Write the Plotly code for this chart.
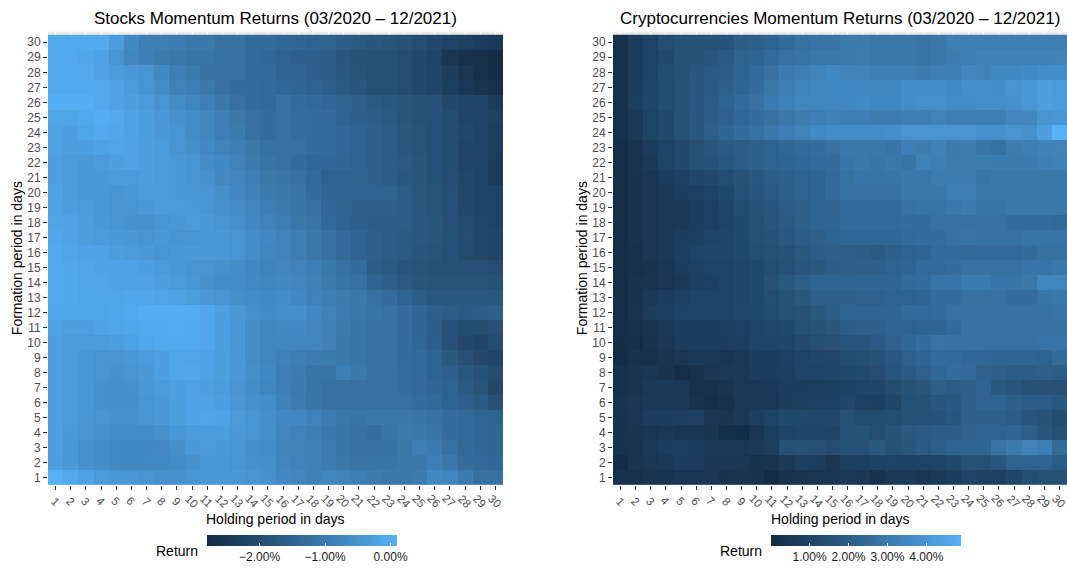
import plotly.graph_objects as go

# Momentum returns in percent: rows = formation period (1..30 days),
# columns = holding period (1..30 days)
formation_days = list(range(1, 31))
holding_days = list(range(1, 31))

stocks_returns = [
    [0.09,-0.06,-0.20,-0.35,-0.40,-0.43,-0.49,-0.55,-0.55,-0.49,-0.43,-0.40,-0.43,-0.49,-0.55,-0.72,-0.78,-0.87,-0.78,-0.84,-0.93,-1.01,-1.07,-1.07,-1.01,-0.72,-0.78,-1.01,-1.22,-1.22],
    [-0.29,-0.40,-0.55,-0.64,-0.69,-0.72,-0.69,-0.69,-0.64,-0.55,-0.43,-0.43,-0.49,-0.55,-0.58,-0.78,-0.84,-0.87,-0.98,-1.07,-1.16,-1.16,-1.16,-1.07,-1.07,-0.93,-1.07,-1.30,-1.36,-1.42],
    [-0.26,-0.40,-0.55,-0.64,-0.69,-0.72,-0.72,-0.69,-0.58,-0.43,-0.35,-0.40,-0.49,-0.58,-0.64,-0.84,-0.84,-0.87,-0.98,-1.13,-1.22,-1.22,-1.22,-1.07,-0.93,-1.01,-1.22,-1.36,-1.42,-1.45],
    [-0.26,-0.40,-0.49,-0.55,-0.64,-0.64,-0.64,-0.55,-0.43,-0.35,-0.29,-0.29,-0.40,-0.49,-0.58,-0.78,-0.84,-0.93,-1.07,-1.16,-1.22,-1.27,-1.16,-1.01,-1.07,-1.16,-1.30,-1.36,-1.42,-1.45],
    [-0.26,-0.35,-0.43,-0.49,-0.55,-0.55,-0.49,-0.40,-0.29,-0.20,-0.14,-0.20,-0.35,-0.49,-0.58,-0.72,-0.72,-0.84,-0.98,-1.07,-1.13,-1.07,-1.07,-1.07,-1.16,-1.22,-1.30,-1.36,-1.42,-1.51],
    [-0.26,-0.35,-0.43,-0.55,-0.58,-0.58,-0.49,-0.40,-0.29,-0.20,-0.20,-0.26,-0.43,-0.55,-0.64,-0.87,-0.98,-1.13,-1.22,-1.22,-1.22,-1.22,-1.22,-1.22,-1.30,-1.36,-1.51,-1.59,-1.71,-1.94],
    [-0.26,-0.35,-0.43,-0.55,-0.58,-0.55,-0.43,-0.35,-0.26,-0.20,-0.26,-0.35,-0.49,-0.64,-0.78,-0.93,-1.01,-1.16,-1.22,-1.22,-1.22,-1.22,-1.22,-1.27,-1.36,-1.45,-1.51,-1.71,-1.85,-2.09],
    [-0.26,-0.35,-0.43,-0.49,-0.55,-0.49,-0.40,-0.26,-0.14,-0.11,-0.20,-0.29,-0.43,-0.58,-0.72,-0.93,-0.98,-1.13,-1.13,-0.93,-1.07,-1.22,-1.22,-1.27,-1.36,-1.51,-1.59,-1.74,-1.88,-2.03],
    [-0.26,-0.35,-0.43,-0.49,-0.49,-0.43,-0.35,-0.26,-0.14,-0.14,-0.20,-0.29,-0.43,-0.64,-0.78,-0.87,-0.93,-0.98,-1.01,-1.07,-1.16,-1.22,-1.22,-1.30,-1.36,-1.51,-1.74,-1.94,-2.09,-2.17],
    [-0.26,-0.35,-0.35,-0.35,-0.29,-0.20,-0.11,-0.06,-0.06,-0.03,-0.11,-0.26,-0.43,-0.64,-0.78,-0.78,-0.78,-0.78,-0.87,-1.07,-1.16,-1.22,-1.22,-1.30,-1.42,-1.59,-1.94,-2.09,-2.17,-2.03],
    [-0.20,-0.26,-0.26,-0.20,-0.14,-0.11,-0.06,-0.03,0.00,-0.03,-0.11,-0.26,-0.43,-0.64,-0.78,-0.69,-0.69,-0.78,-0.87,-1.01,-1.13,-1.22,-1.22,-1.30,-1.45,-1.65,-1.94,-2.03,-2.03,-1.94],
    [-0.11,-0.14,-0.14,-0.14,-0.11,-0.06,0.00,0.00,0.03,0.00,-0.11,-0.26,-0.40,-0.55,-0.64,-0.58,-0.58,-0.72,-0.84,-0.98,-1.07,-1.13,-1.22,-1.30,-1.45,-1.59,-1.65,-1.71,-1.65,-1.59],
    [-0.06,-0.11,-0.14,-0.14,-0.14,-0.11,-0.11,-0.14,-0.20,-0.29,-0.40,-0.49,-0.58,-0.64,-0.69,-0.64,-0.72,-0.84,-0.93,-1.01,-1.07,-1.22,-1.30,-1.51,-1.65,-1.74,-1.74,-1.74,-1.74,-1.74],
    [-0.06,-0.11,-0.14,-0.14,-0.20,-0.20,-0.20,-0.26,-0.35,-0.43,-0.55,-0.64,-0.64,-0.69,-0.78,-0.72,-0.78,-0.87,-1.01,-1.13,-1.22,-1.51,-1.59,-1.71,-1.80,-1.85,-1.85,-1.85,-1.85,-1.88],
    [-0.06,-0.11,-0.14,-0.20,-0.20,-0.20,-0.26,-0.35,-0.43,-0.49,-0.49,-0.55,-0.64,-0.72,-0.84,-0.78,-0.84,-0.93,-1.07,-1.22,-1.30,-1.65,-1.71,-1.80,-1.85,-1.88,-1.94,-1.94,-1.94,-2.00],
    [-0.06,-0.14,-0.20,-0.20,-0.29,-0.35,-0.40,-0.49,-0.43,-0.40,-0.40,-0.43,-0.49,-0.64,-0.78,-0.84,-0.93,-1.07,-1.22,-1.36,-1.51,-1.59,-1.65,-1.71,-1.80,-1.85,-1.94,-2.03,-2.09,-2.17],
    [-0.11,-0.20,-0.29,-0.35,-0.40,-0.43,-0.49,-0.43,-0.49,-0.49,-0.43,-0.43,-0.49,-0.64,-0.72,-0.84,-0.93,-1.07,-1.22,-1.36,-1.51,-1.59,-1.65,-1.71,-1.74,-1.80,-1.88,-2.00,-2.09,-2.17],
    [-0.14,-0.20,-0.29,-0.40,-0.49,-0.55,-0.55,-0.49,-0.43,-0.35,-0.40,-0.49,-0.55,-0.72,-0.84,-0.93,-1.07,-1.16,-1.36,-1.51,-1.59,-1.65,-1.65,-1.65,-1.74,-1.80,-1.94,-2.03,-2.14,-2.23],
    [-0.20,-0.29,-0.35,-0.43,-0.49,-0.49,-0.43,-0.35,-0.35,-0.40,-0.49,-0.55,-0.64,-0.78,-0.93,-1.01,-1.13,-1.22,-1.42,-1.56,-1.59,-1.59,-1.59,-1.65,-1.74,-1.85,-1.94,-2.09,-2.17,-2.23],
    [-0.20,-0.35,-0.40,-0.43,-0.49,-0.43,-0.35,-0.35,-0.40,-0.43,-0.49,-0.58,-0.72,-0.87,-1.01,-1.07,-1.16,-1.30,-1.45,-1.56,-1.51,-1.51,-1.56,-1.65,-1.74,-1.85,-1.94,-2.09,-2.17,-2.23],
    [-0.26,-0.35,-0.40,-0.40,-0.35,-0.35,-0.29,-0.35,-0.40,-0.49,-0.55,-0.72,-0.78,-0.93,-1.07,-1.13,-1.22,-1.36,-1.51,-1.51,-1.56,-1.59,-1.65,-1.74,-1.80,-1.88,-2.00,-2.14,-2.23,-2.38],
    [-0.26,-0.35,-0.40,-0.35,-0.26,-0.20,-0.26,-0.35,-0.40,-0.49,-0.64,-0.72,-0.84,-1.01,-1.13,-1.22,-1.30,-1.42,-1.42,-1.45,-1.51,-1.59,-1.65,-1.71,-1.80,-1.94,-2.03,-2.17,-2.23,-2.38],
    [-0.20,-0.26,-0.26,-0.20,-0.14,-0.20,-0.26,-0.35,-0.49,-0.58,-0.72,-0.84,-0.93,-1.07,-1.22,-1.22,-1.22,-1.30,-1.36,-1.42,-1.51,-1.59,-1.65,-1.74,-1.85,-1.94,-2.03,-2.17,-2.23,-2.32],
    [-0.20,-0.26,-0.14,-0.06,-0.11,-0.20,-0.29,-0.40,-0.49,-0.64,-0.78,-0.93,-1.01,-1.22,-1.30,-1.22,-1.27,-1.30,-1.36,-1.42,-1.51,-1.59,-1.65,-1.74,-1.85,-1.94,-2.03,-2.14,-2.23,-2.32],
    [-0.14,-0.14,-0.06,0.00,-0.06,-0.20,-0.29,-0.43,-0.55,-0.64,-0.78,-0.93,-1.07,-1.22,-1.30,-1.22,-1.27,-1.30,-1.36,-1.51,-1.59,-1.65,-1.71,-1.80,-1.88,-1.94,-2.03,-2.17,-2.23,-2.29],
    [0.03,0.03,0.03,-0.06,-0.20,-0.26,-0.35,-0.49,-0.64,-0.78,-0.93,-1.07,-1.22,-1.30,-1.36,-1.22,-1.30,-1.36,-1.42,-1.56,-1.59,-1.71,-1.74,-1.80,-1.88,-1.94,-2.09,-2.17,-2.23,-2.38],
    [-0.06,-0.06,-0.06,-0.06,-0.20,-0.35,-0.49,-0.64,-0.84,-0.93,-1.07,-1.22,-1.30,-1.30,-1.36,-1.42,-1.45,-1.51,-1.59,-1.71,-1.80,-1.94,-1.94,-2.00,-2.09,-2.17,-2.32,-2.46,-2.58,-2.67],
    [-0.06,-0.06,-0.06,-0.20,-0.35,-0.43,-0.49,-0.72,-0.93,-1.01,-1.22,-1.22,-1.22,-1.36,-1.36,-1.51,-1.51,-1.59,-1.65,-1.74,-1.85,-1.94,-1.94,-2.00,-2.09,-2.17,-2.38,-2.52,-2.67,-2.75],
    [-0.06,-0.06,-0.11,-0.20,-0.49,-0.78,-0.93,-1.01,-1.07,-1.16,-1.16,-1.22,-1.22,-1.36,-1.42,-1.51,-1.59,-1.59,-1.65,-1.80,-1.88,-1.94,-1.94,-2.00,-2.09,-2.23,-2.52,-2.67,-2.72,-2.81],
    [-0.06,-0.06,-0.06,-0.06,-0.35,-0.72,-0.93,-0.93,-0.98,-1.07,-1.07,-1.22,-1.22,-1.36,-1.36,-1.42,-1.45,-1.51,-1.56,-1.65,-1.71,-1.80,-1.85,-1.88,-2.00,-2.09,-2.23,-2.29,-2.38,-2.46],
]

crypto_returns = [
    [0.24,0.24,0.39,0.39,0.49,0.49,0.49,0.34,0.39,0.34,0.01,0.34,0.39,0.44,0.44,0.59,0.54,0.24,0.63,0.63,0.49,0.63,0.73,0.98,0.88,0.88,1.07,1.37,1.46,1.46],
    [0.10,0.39,0.49,0.59,0.73,0.73,0.49,0.49,0.49,0.34,0.39,0.59,0.83,0.73,0.49,0.83,0.83,0.93,0.98,0.93,0.98,1.02,1.22,1.46,1.46,1.71,2.20,2.20,2.20,1.95],
    [0.34,0.39,0.59,0.73,0.83,0.73,0.63,0.59,0.59,0.68,0.83,1.46,1.56,1.46,1.37,1.61,1.61,1.81,1.61,1.71,1.85,2.05,2.20,2.29,2.29,2.78,3.03,3.32,3.17,2.44],
    [0.34,0.39,0.49,0.59,0.49,0.49,0.39,0.15,0.10,0.49,0.83,0.98,1.07,1.07,0.98,1.56,1.61,1.37,1.61,1.81,1.85,1.95,1.95,2.10,2.20,2.20,2.29,2.05,1.71,1.46],
    [0.34,0.49,0.73,0.73,0.83,0.88,0.49,0.39,0.59,0.83,0.98,1.22,1.22,1.17,1.17,1.46,1.32,1.32,1.37,1.46,1.56,1.61,1.71,2.05,2.05,2.05,1.95,1.71,1.61,1.32],
    [0.39,0.49,0.63,0.63,0.63,0.34,0.15,0.24,0.59,0.59,0.59,0.78,0.83,0.88,0.88,1.07,0.88,0.83,1.07,1.51,1.56,1.71,1.81,2.05,2.20,2.20,2.05,1.95,1.95,1.81],
    [0.24,0.39,0.59,0.59,0.59,0.24,0.24,0.39,0.59,0.59,0.63,0.73,0.73,0.83,0.83,0.93,1.02,1.07,1.32,1.61,1.71,2.05,1.95,2.05,2.20,1.81,1.71,1.56,1.56,1.46],
    [0.24,0.39,0.49,0.34,0.15,0.24,0.49,0.59,0.63,0.73,0.73,0.83,0.98,0.98,1.07,1.17,1.27,1.37,1.66,1.85,2.10,2.34,2.54,2.44,2.10,2.05,1.95,1.95,2.05,1.95],
    [0.10,0.24,0.24,0.39,0.49,0.59,0.59,0.49,0.59,0.73,0.73,0.88,0.98,1.07,1.12,1.32,1.42,1.56,1.76,2.10,2.29,2.49,2.44,2.34,2.34,2.29,2.29,2.29,2.20,2.54],
    [0.10,0.15,0.34,0.49,0.73,0.73,0.73,0.73,0.83,0.98,1.02,1.07,1.27,1.42,1.46,1.66,1.66,1.90,2.10,2.34,2.54,2.73,2.68,2.68,2.68,2.68,2.68,2.68,2.78,2.78],
    [0.15,0.24,0.39,0.59,0.73,0.73,0.73,0.83,0.88,0.98,1.12,1.22,1.46,1.61,1.71,1.95,2.05,2.05,2.20,2.20,2.29,2.29,2.44,2.68,2.68,2.68,2.68,2.68,2.68,2.68],
    [0.15,0.39,0.73,0.83,0.98,0.98,0.98,0.98,1.22,1.22,1.32,1.46,1.61,1.81,1.95,2.20,2.29,2.29,2.29,2.44,2.44,2.54,2.68,2.68,2.68,2.68,2.68,2.68,2.68,2.83],
    [0.15,0.34,0.59,0.73,0.88,0.98,0.98,0.98,1.07,1.22,1.37,1.61,1.81,2.05,2.05,2.05,2.10,2.10,2.20,2.20,2.29,2.54,2.54,2.68,2.68,2.68,2.54,2.54,2.83,2.93],
    [0.15,0.34,0.39,0.49,0.63,0.83,0.88,0.98,1.07,1.22,1.46,1.81,2.05,2.20,2.20,2.20,2.29,2.29,2.29,2.44,2.54,2.78,2.78,3.03,3.03,2.83,2.83,2.93,3.42,3.42],
    [0.15,0.24,0.34,0.49,0.73,0.88,0.98,0.98,1.07,1.22,1.37,1.56,1.71,1.81,1.95,2.05,2.05,2.05,2.20,2.29,2.44,2.44,2.54,2.68,2.68,2.68,2.68,2.78,2.78,2.93],
    [0.15,0.24,0.49,0.63,0.83,0.98,1.07,1.07,1.22,1.37,1.46,1.61,1.81,1.95,2.05,2.05,1.95,1.85,2.05,2.20,2.29,2.44,2.44,2.44,2.44,2.44,2.44,2.54,2.68,2.68],
    [0.15,0.34,0.49,0.59,0.73,0.83,0.98,1.07,1.22,1.46,1.61,1.81,1.95,2.05,2.20,2.34,2.34,2.34,2.34,2.44,2.54,2.54,2.68,2.78,2.68,2.68,2.68,2.78,2.78,2.78],
    [0.15,0.34,0.49,0.59,0.63,0.73,0.88,0.98,1.22,1.46,1.71,1.85,2.05,2.20,2.29,2.44,2.44,2.44,2.44,2.54,2.54,2.68,2.68,2.68,2.68,2.68,2.54,2.54,2.54,2.44],
    [0.15,0.34,0.49,0.59,0.63,0.73,0.88,1.07,1.32,1.56,1.71,1.95,2.05,2.20,2.29,2.54,2.54,2.54,2.54,2.68,2.78,2.78,2.93,3.03,2.78,2.78,2.93,2.93,2.93,2.93],
    [0.15,0.34,0.49,0.63,0.73,0.88,0.98,1.22,1.46,1.71,1.85,2.05,2.20,2.29,2.44,2.68,2.68,2.68,2.68,2.93,2.93,2.93,3.17,3.17,2.93,2.93,2.93,2.93,2.93,2.93],
    [0.15,0.34,0.49,0.73,0.88,1.07,1.22,1.37,1.61,1.81,1.95,2.05,2.20,2.29,2.44,2.68,2.83,2.78,2.83,2.93,2.93,3.07,3.07,3.07,2.83,2.93,2.93,2.93,2.93,2.93],
    [0.15,0.39,0.63,0.98,1.22,1.46,1.61,1.81,1.95,2.05,2.20,2.29,2.34,2.44,2.54,2.83,2.93,2.83,2.93,2.83,3.27,3.17,3.07,3.07,3.07,3.03,3.03,3.03,3.17,3.27],
    [0.15,0.39,0.73,0.98,1.22,1.46,1.71,1.85,1.95,2.05,2.20,2.34,2.44,2.54,2.68,2.93,2.93,2.93,2.83,3.17,3.07,3.27,3.03,3.07,2.83,2.68,3.07,3.17,3.27,3.32],
    [0.24,0.59,0.98,1.22,1.46,1.71,2.05,2.29,2.54,2.68,2.93,3.17,3.32,3.56,3.66,3.66,3.66,3.66,3.76,3.90,3.90,3.90,3.90,3.90,3.81,3.81,3.90,3.81,4.29,4.89],
    [0.24,0.59,0.98,1.22,1.46,1.71,1.95,2.10,2.34,2.54,2.68,2.93,3.07,3.17,3.27,3.17,3.17,3.07,3.07,3.17,3.17,3.32,3.17,3.17,3.17,3.17,3.42,3.42,3.90,4.00],
    [0.24,0.83,1.07,1.32,1.56,1.71,1.95,2.20,2.44,2.68,3.03,3.27,3.42,3.42,3.51,3.51,3.56,3.51,3.51,3.66,3.81,3.81,3.66,3.66,3.76,3.76,3.81,4.00,4.25,4.15],
    [0.24,0.73,1.07,1.32,1.56,1.71,1.85,2.05,2.29,2.54,2.93,3.17,3.32,3.42,3.51,3.51,3.51,3.42,3.51,3.66,3.66,3.66,3.56,3.76,3.76,3.66,3.90,4.00,4.29,4.15],
    [0.24,0.73,0.98,1.32,1.46,1.71,1.85,1.95,2.20,2.44,2.68,3.03,3.17,3.32,3.51,3.32,3.32,3.17,3.17,3.17,3.03,3.17,3.17,3.42,3.32,3.51,3.51,3.56,3.66,3.66],
    [0.24,0.73,0.98,1.22,1.46,1.61,1.71,1.85,2.20,2.29,2.44,2.68,2.78,2.93,2.93,3.03,3.07,2.93,2.93,2.93,2.83,2.93,3.07,3.17,3.27,3.27,3.27,3.27,3.27,3.32],
    [0.24,0.73,0.98,1.37,1.46,1.56,1.61,1.61,1.95,2.05,2.20,2.44,2.68,2.78,2.83,3.03,3.03,2.93,2.93,2.93,2.83,2.93,3.17,3.17,3.17,3.17,3.17,3.17,3.17,3.17],
]

stocks_ticks = [-2, -1, 0]
stocks_tick_labels = ["\u22122.00%", "\u22121.00%", "0.00%"]
crypto_ticks = [1, 2, 3, 4]
crypto_tick_labels = ["1.00%", "2.00%", "3.00%", "4.00%"]

titles = ["Stocks Momentum Returns (03/2020 \u2013 12/2021)",
          "Cryptocurrencies Momentum Returns (03/2020 \u2013 12/2021)"]


# --- two-colour gradient interpolated in CIE Lab space ---------------------
def _hex_rgb(h):
    return [int(h[i:i + 2], 16) / 255 for i in (1, 3, 5)]


def _lin(c):
    return c / 12.92 if c <= 0.04045 else ((c + 0.055) / 1.055) ** 2.4


def _delin(c):
    return 12.92 * c if c <= 0.0031308 else 1.055 * c ** (1 / 2.4) - 0.055


_WHITE = (0.95047, 1.0, 1.08883)


def rgb_to_lab(rgb):
    r, g, b = [_lin(c) for c in rgb]
    X = 0.4124564 * r + 0.3575761 * g + 0.1804375 * b
    Y = 0.2126729 * r + 0.7151522 * g + 0.0721750 * b
    Z = 0.0193339 * r + 0.1191920 * g + 0.9503041 * b

    def f(t):
        return t ** (1 / 3) if t > (6 / 29) ** 3 else t / (3 * (6 / 29) ** 2) + 4 / 29

    fx, fy, fz = f(X / _WHITE[0]), f(Y / _WHITE[1]), f(Z / _WHITE[2])
    return 116 * fy - 16, 500 * (fx - fy), 200 * (fy - fz)


def lab_to_hex(L, a, b):
    fy = (L + 16) / 116
    fx = fy + a / 500
    fz = fy - b / 200

    def finv(t):
        return t ** 3 if t > 6 / 29 else 3 * (6 / 29) ** 2 * (t - 4 / 29)

    X, Y, Z = _WHITE[0] * finv(fx), _WHITE[1] * finv(fy), _WHITE[2] * finv(fz)
    r = 3.2404542 * X - 1.5371385 * Y - 0.4985314 * Z
    g = -0.9692660 * X + 1.8760108 * Y + 0.0415560 * Z
    bl = 0.0556434 * X - 0.2040259 * Y + 1.0572252 * Z
    out = [round(255 * min(1, max(0, _delin(c)))) for c in (r, g, bl)]
    return "#%02x%02x%02x" % tuple(out)


def lab_gradient(low, high, n=21):
    l0, l1 = rgb_to_lab(_hex_rgb(low)), rgb_to_lab(_hex_rgb(high))
    stops = []
    for i in range(n):
        t = i / (n - 1)
        stops.append([t, lab_to_hex(*[l0[k] + (l1[k] - l0[k]) * t for k in range(3)])])
    return stops


SCALE = lab_gradient("#132B43", "#56B1F7")

W, H = 1067, 568
FONT = "Liberation Sans, Arial, Helvetica, sans-serif"


def px_x(p):
    return p / W


def px_y(p):
    return 1 - p / H


panels = [
    dict(x0=48, x1=503, z=stocks_returns, ticks=stocks_ticks, labels=stocks_tick_labels,
         cb_center=301.5, ret_right=200, xa="x", ya="y"),
    dict(x0=613, x1=1067, z=crypto_returns, ticks=crypto_ticks, labels=crypto_tick_labels,
         cb_center=866, ret_right=764, xa="x2", ya="y2"),
]

fig = go.Figure()
annotations = []
layout_axes = {}

for i, p in enumerate(panels):
    flat = [v for row in p["z"] for v in row]
    fig.add_trace(go.Heatmap(
        z=p["z"], x=holding_days, y=formation_days,
        colorscale=SCALE, zmin=min(flat), zmax=max(flat),
        xaxis=p["xa"], yaxis=p["ya"],
        hovertemplate="Holding %{x}<br>Formation %{y}<br>%{z:.2f}%<extra></extra>",
        colorbar=dict(
            orientation="h", x=px_x(p["cb_center"]), xanchor="center",
            y=px_y(539), yanchor="top",
            len=190, lenmode="pixels", thickness=11, thicknessmode="pixels",
            outlinewidth=0, xpad=0, ypad=0,
            tickmode="array", tickvals=p["ticks"], ticktext=p["labels"],
            ticks="inside", ticklen=3, tickwidth=1, tickcolor="white",
            tickfont=dict(family=FONT, size=12, color="#1a1a1a"),
        ),
    ))

    suffix = "" if i == 0 else "2"
    layout_axes["xaxis" + suffix] = dict(
        domain=[px_x(p["x0"]), px_x(p["x1"])], range=[0.5, 30.5],
        anchor=p["ya"], tickmode="array", tickvals=holding_days,
        showticklabels=False, ticks="outside", ticklen=4, tickwidth=1,
        tickcolor="#333333", showgrid=True, gridcolor="white", gridwidth=1,
        zeroline=False, showline=False, fixedrange=True,
    )
    layout_axes["yaxis" + suffix] = dict(
        domain=[px_y(488.5), px_y(32)], range=[0.5, 30.7],
        anchor=p["xa"], tickmode="array", tickvals=formation_days,
        ticktext=[str(d) for d in formation_days],
        ticks="outside", ticklen=4, tickwidth=1, tickcolor="#333333",
        tickfont=dict(family=FONT, size=12, color="#4d4d4d"),
        showgrid=False, zeroline=False, showline=False, fixedrange=True,
    )

    cx = (p["x0"] + p["x1"]) / 2
    annotations.append(dict(text=titles[i], x=px_x(cx), y=px_y(18.5), xref="paper",
                            yref="paper", showarrow=False, xanchor="center",
                            yanchor="middle", font=dict(family=FONT, size=17, color="black")))
    annotations.append(dict(text="Holding period in days", x=px_x(cx), y=px_y(523),
                            xref="paper", yref="paper", showarrow=False, xanchor="center",
                            yanchor="middle", font=dict(family=FONT, size=14, color="black")))
    annotations.append(dict(text="Formation period in days", x=px_x(p["x0"] - 31),
                            y=px_y(260), xref="paper", yref="paper", showarrow=False,
                            textangle=-90, xanchor="center", yanchor="middle",
                            font=dict(family=FONT, size=14, color="black")))
    annotations.append(dict(text="Return", x=px_x(p["ret_right"]), y=px_y(554.5),
                            xref="paper", yref="paper", showarrow=False, xanchor="right",
                            yanchor="middle", font=dict(family=FONT, size=14, color="black")))
    for d in holding_days:
        annotations.append(dict(text=str(d), x=d, y=px_y(505), xref=p["xa"], yref="paper",
                                showarrow=False, textangle=45, xanchor="center",
                                yanchor="middle", xshift=-1, borderpad=0,
                                font=dict(family=FONT, size=11.5, color="#4d4d4d")))

fig.update_layout(
    width=W, height=H, margin=dict(l=0, r=0, t=0, b=0),
    paper_bgcolor="white", plot_bgcolor="#ebebeb",
    annotations=annotations, showlegend=False,
    **layout_axes,
)

fig.write_html("out.html")
